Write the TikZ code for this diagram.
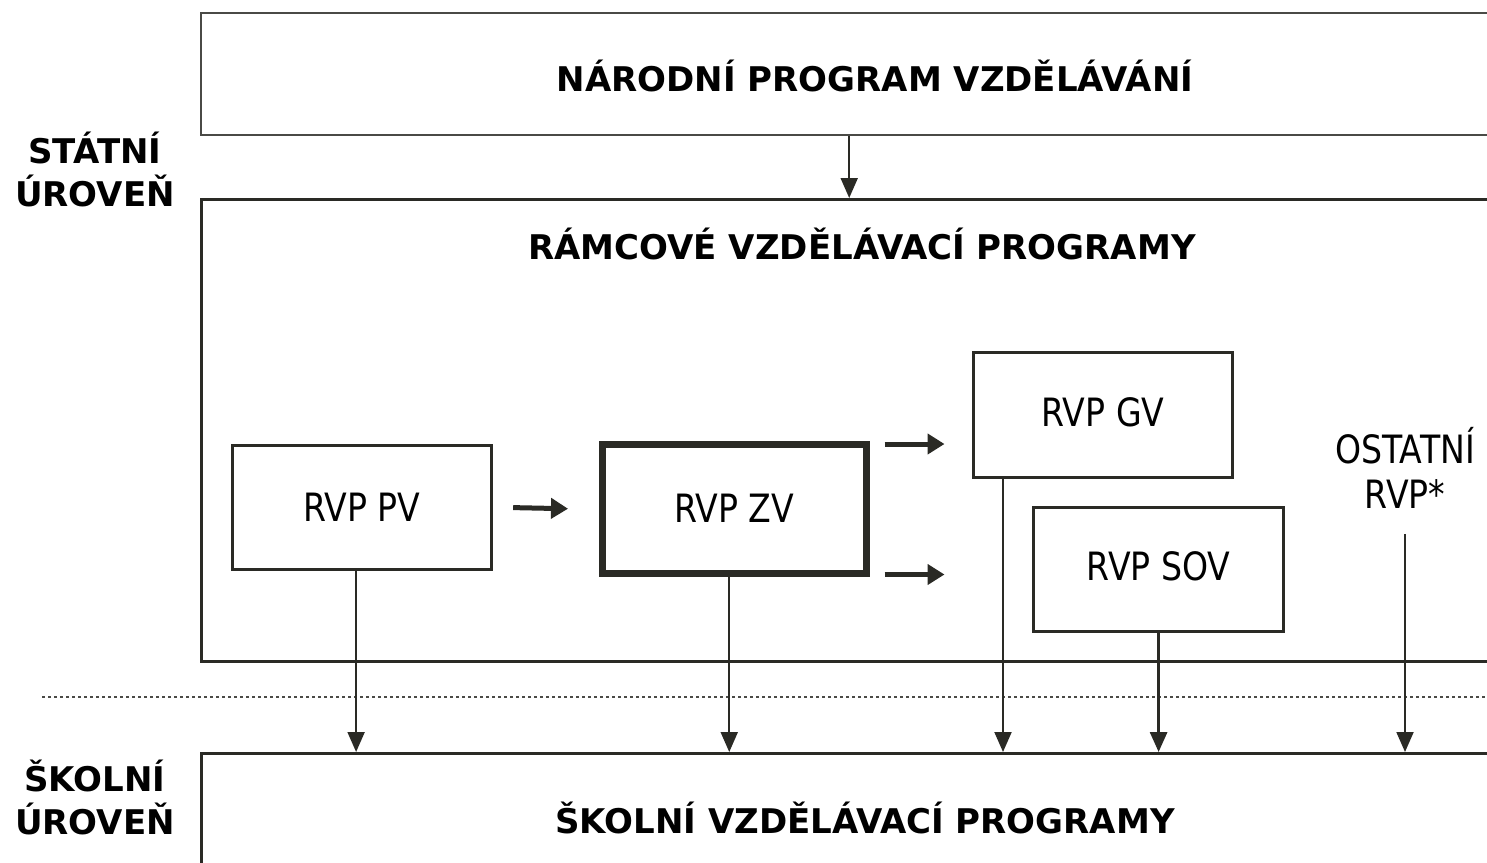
\documentclass[tikz,border=0pt]{standalone}
\usepackage{fontspec}
\setmainfont{DejaVu Sans}
\newfontfamily\condfont[FakeStretch=0.85]{DejaVu Sans}
\usetikzlibrary{arrows.meta,calc}
\definecolor{ln}{HTML}{2A2A25}
\tikzset{
  head/.style={font=\bfseries\fontsize{34}{43}\selectfont, align=center, inner sep=0pt},
  lbl/.style={font=\condfont\fontsize{39}{45}\selectfont, align=center, inner sep=0pt},
  bigbox/.style={draw=ln, line width=3.2pt, anchor=north west, inner sep=0pt},
  smallbox/.style={draw=ln, line width=3.2pt, anchor=north west, inner sep=0pt},
  down/.style={draw=ln, line width=2pt, -{Triangle[length=20pt,width=17pt]}},
  side/.style={draw=ln, line width=5pt, -{Triangle[length=17pt,width=20pt]}},
}
\begin{document}
\begin{tikzpicture}[x=1pt,y=-1pt]
\useasboundingbox (0,0) rectangle (1487,862);
\clip (0,0) rectangle (1487,862);
% big boxes
\node[bigbox, line width=2.4pt, draw=ln!85, minimum width=1350pt, minimum height=122pt] (nat) at (200,12) {};
\node[head] (natt) at (875,76) {NÁRODNÍ PROGRAM VZDĚLÁVÁNÍ};
\node[bigbox, minimum width=1350pt, minimum height=462pt] (ram) at (200,198) {};
\node[head] (ramt) at (862,244) {RÁMCOVÉ VZDĚLÁVACÍ PROGRAMY};
\node[bigbox, minimum width=1350pt, minimum height=200pt] (svp) at (200,752) {};
\node[head] (svpt) at (865,818) {ŠKOLNÍ VZDĚLÁVACÍ PROGRAMY};
% level labels
\node[head] (st) at (95,169) {STÁTNÍ\\ÚROVEŇ};
\node[head] (sk) at (95,797) {ŠKOLNÍ\\ÚROVEŇ};
% small boxes
\node[smallbox, minimum width=259pt, minimum height=124pt] (pv) at (231,444) {};
\node[lbl] at (pv.center) {RVP PV};
\node[smallbox, line width=6.5pt, minimum width=264pt, minimum height=129pt] (zv) at (599,441) {};
\node[lbl] at (zv.center) {RVP ZV};
\node[smallbox, minimum width=259pt, minimum height=125pt] (gv) at (972,351) {};
\node[lbl] at ($(gv.center)+(0,-3)$) {RVP GV};
\node[smallbox, minimum width=250pt, minimum height=124pt] (sov) at (1032,506) {};
\node[lbl] at ($(sov.center)+(0,-3)$) {RVP SOV};
\node[lbl] (ost) at (1405,468) {OSTATNÍ\\RVP*};
% dotted divider
\coordinate (dl) at (42,697);
\coordinate (dr) at (1487,697);
\draw[ln!85, line width=2.8pt, dash pattern=on 2.5pt off 3.5pt] (dl) -- (dr);
% helper coordinates
\coordinate (natb) at ($(nat.south)+(-27,0)$);
\coordinate (pvb) at ($(pv.south)+(-6,0)$);
\coordinate (zvb) at ($(zv.south)+(-5,0)$);
\coordinate (gvb) at ($(gv.south west)+(31,0)$);
\coordinate (ostb) at ($(ost.south)+(0,25)$);
\coordinate (s1) at ($(pv.east)+(20,0)$);
\coordinate (s2) at ($(zv.west)+(-31,0)$);
\coordinate (z1) at ($(zv.north east)+(15,3)$);
\coordinate (z2) at ($(zv.south east)+(15,-2)$);
% arrows
\draw[down] (natb) -- (natb |- ram.north);
\draw[side] (s1) -- (s2);
\draw[side] (z1) -- ++(60,0);
\draw[side] (z2) -- ++(60,0);
\draw[down] (pvb) -- (pvb |- svp.north);
\draw[down] (zvb) -- (zvb |- svp.north);
\draw[down] (gvb) -- (gvb |- svp.north);
\draw[down, line width=3pt] (sov.south) -- (sov.south |- svp.north);
\draw[down] (ostb) -- (ostb |- svp.north);
\end{tikzpicture}
\end{document}
